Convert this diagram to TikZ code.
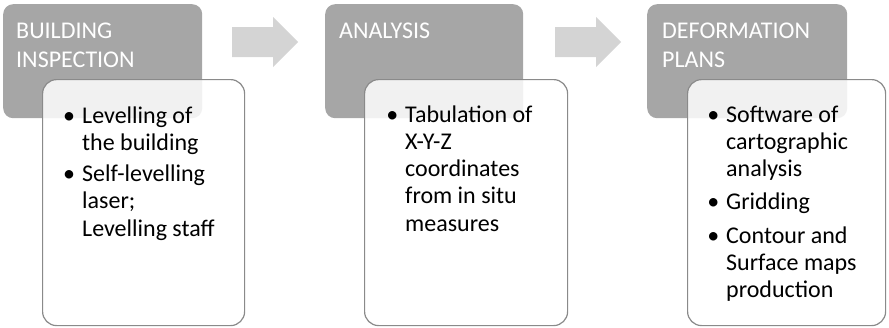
\documentclass[tikz,border=0pt]{standalone}
\usepackage{fontspec}
\setmainfont{Carlito}
\definecolor{headgray}{HTML}{A6A6A6}
\definecolor{arrowgray}{HTML}{D4D4D4}
\definecolor{edgegray}{HTML}{8A8A8A}
\newcommand\bul{\llap{\textbullet\hspace{7pt}}}
\newcommand\linesblock[1]{\begin{tabular}[t]{@{}l@{}}#1\end{tabular}}
\begin{document}
\begin{tikzpicture}[x=1pt,y=-1pt,
  headbox/.style={fill=headgray, rounded corners=10pt, inner sep=0pt, anchor=north west},
  bodybox/.style={draw=edgegray, line width=1.2pt, fill=white, fill opacity=0.85, rounded corners=14pt, inner sep=0pt, anchor=north west},
  headtext/.style={anchor=base west, inner sep=0pt, text=white, font=\fontsize{24}{29}\selectfont},
  bodytext/.style={anchor=base west, inner sep=0pt, text=black, font=\fontsize{24}{27.3}\selectfont},
  flowarrow/.style={fill=arrowgray}]
\useasboundingbox (0,0) rectangle (889,327);

% header boxes
\node[headbox, minimum width=199pt, minimum height=114pt] (h1) at (3,4) {};
\node[headbox, minimum width=198pt, minimum height=114pt] (h2) at (325,4) {};
\node[headbox, minimum width=200pt, minimum height=114pt] (h3) at (647,4) {};

% arrows
\fill[flowarrow] (232,27) -- (273,27) -- (273,17) -- (298,42) -- (273,67) -- (273,57) -- (232,57) -- cycle;
\fill[flowarrow] (555,27) -- (596,27) -- (596,17) -- (621,42) -- (596,67) -- (596,57) -- (555,57) -- cycle;

% titles
\node[headtext] (t1) at (16,38) {\linesblock{BUILDING\\INSPECTION}};
\node[headtext] (t2) at (339,38) {\linesblock{ANALYSIS}};
\node[headtext] (t3) at (662,38) {\linesblock{DEFORMATION\\PLANS}};

% body boxes
\node[bodybox, minimum width=202pt, minimum height=246pt] (b1) at (42,79) {};
\node[bodybox, minimum width=203pt, minimum height=246pt] (b2) at (364,79) {};
\node[bodybox, minimum width=198pt, minimum height=246pt] (b3) at (687,79) {};

% body texts
\node[bodytext] (l1) at (82,123) {\linesblock{\bul Levelling of\\the building\\[4pt]\bul Self-levelling\\laser;\\Levelling staff}};
\node[bodytext] (l2) at (405,122) {\linesblock{\bul Tabulation of\\X-Y-Z\\coordinates\\from in situ\\measures}};
\node[bodytext] (l3) at (726,122) {\linesblock{\bul Software of\\cartographic\\analysis\\[6pt]\bul Gridding\\[6pt]\bul Contour and\\Surface maps\\production}};
\end{tikzpicture}
\end{document}
